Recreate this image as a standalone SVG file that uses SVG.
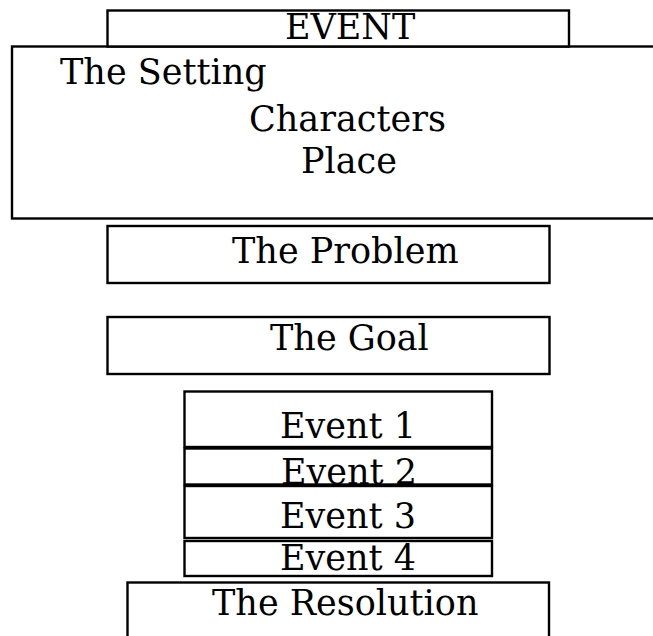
<svg xmlns="http://www.w3.org/2000/svg" width="653" height="636" viewBox="0 0 653 636">
<style>
.box{fill:#fff;stroke:#000;stroke-width:2.4}
text{font-family:"DejaVu Serif",serif;font-size:35px;fill:#000}
</style>
<rect width="653" height="636" fill="#fff"/>
<g id="setting">
<rect class="box" x="12" y="46.5" width="660" height="172"/>
<text x="60" y="84">The Setting</text>
<text x="249" y="131">Characters</text>
<text x="301" y="173">Place</text>
</g>
<g id="event-title">
<rect class="box" x="107.5" y="10.5" width="461.5" height="36"/>
<text x="285" y="39">EVENT</text>
</g>
<g id="problem">
<rect class="box" x="107.5" y="226" width="442" height="57"/>
<text x="232" y="263">The Problem</text>
</g>
<g id="goal">
<rect class="box" x="107.5" y="317" width="442" height="57"/>
<text x="270" y="350">The Goal</text>
</g>
<g id="event1">
<rect class="box" x="184.5" y="391.5" width="307.5" height="55.5"/>
<text x="280" y="438">Event 1</text>
</g>
<g id="event2">
<rect class="box" x="184.5" y="448.5" width="307.5" height="36"/>
<text x="281" y="484">Event 2</text>
</g>
<g id="event3">
<rect class="box" x="184.5" y="486" width="307.5" height="52"/>
<text x="280" y="528">Event 3</text>
</g>
<g id="event4">
<rect class="box" x="184.5" y="541" width="307.5" height="35"/>
<text x="280" y="570">Event 4</text>
</g>
<g id="resolution">
<rect class="box" x="127.5" y="582.5" width="421.5" height="70"/>
<text x="212" y="615">The Resolution</text>
</g>
<g id="connectors"></g>
</svg>
